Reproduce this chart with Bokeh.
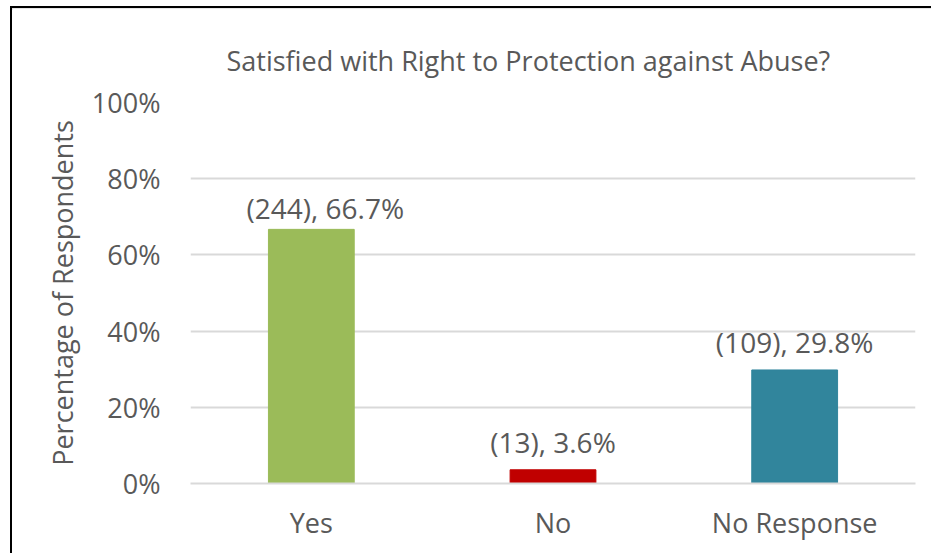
from bokeh.plotting import figure
from bokeh.models import FactorRange, Range1d, ColumnDataSource, LabelSet, NumeralTickFormatter, FixedTicker
from bokeh.core.properties import value
from bokeh.embed import file_html
from bokeh.resources import INLINE

categories = ["Yes", "No", "No Response"]
counts = [244, 13, 109]
percents = [66.7, 3.6, 29.8]
colors = ["#9BBB59", "#C00000", "#31859C"]
y_ticks = [0, 0.2, 0.4, 0.6, 0.8, 1.0]

labels = [f"({c}), {p}%" for c, p in zip(counts, percents)]
label_x_offsets = [14, 0, 0]
label_y_offsets = [10, 17, 17]

src = ColumnDataSource(dict(
    cat=categories,
    val=[p / 100 for p in percents],
    color=colors,
    label=labels,
    xoff=label_x_offsets,
    yoff=label_y_offsets,
))

FONT = "Open Sans"
TXT = "#595959"
FS = "27px"

p = figure(
    x_range=FactorRange(*categories, range_padding=0),
    y_range=Range1d(0, 1),
    width=921, height=547,
    output_backend="svg", toolbar_location=None,
    title="Satisfied with Right to Protection against Abuse?",
    min_border_left=178, min_border_right=18, min_border_top=94, min_border_bottom=72,
)
p.styles = {
    "margin-left": "10px", "margin-top": "6px",
    "border-left": "2px solid black", "border-top": "2px solid black",
    "box-shadow": "inset 0 2px 0 #dcdcdc",
}

p.vbar(x="cat", top="val", width=0.355, color="color", source=src)

p.add_layout(LabelSet(x="cat", y="val", text="label", source=src,
                      x_offset="xoff", y_offset="yoff",
                      text_align="center", text_baseline="alphabetic",
                      text_font=value(FONT), text_font_size=value("28px"), text_color=TXT))

p.title.align = "left"
p.title.offset = 36
p.title.text_font = FONT
p.title.text_font_size = FS
p.title.text_font_style = "normal"
p.title.text_color = TXT
p.title.standoff = 47

p.outline_line_color = None
p.xgrid.grid_line_color = None
p.ygrid.grid_line_color = "#D9D9D9"
p.ygrid.grid_line_width = 2

p.yaxis.ticker = FixedTicker(ticks=y_ticks)
p.yaxis.formatter = NumeralTickFormatter(format="0%")
p.yaxis.axis_line_color = None
p.yaxis.major_tick_line_color = None
p.yaxis.minor_tick_line_color = None
p.yaxis.major_label_standoff = 24
p.yaxis.major_label_text_font = FONT
p.yaxis.major_label_text_font_size = FS
p.yaxis.major_label_text_color = TXT
p.yaxis.axis_label = "Percentage of Respondents"
p.yaxis.axis_label_text_font = FONT
p.yaxis.axis_label_text_font_size = FS
p.yaxis.axis_label_text_font_style = "normal"
p.yaxis.axis_label_text_color = TXT
p.yaxis.axis_label_standoff = 8

p.xaxis.axis_line_color = "#D9D9D9"
p.xaxis.axis_line_width = 2
p.xaxis.major_tick_line_color = None
p.xaxis.minor_tick_line_color = None
p.xaxis.major_label_standoff = 14
p.xaxis.major_label_text_font = FONT
p.xaxis.major_label_text_font_size = FS
p.xaxis.major_label_text_color = TXT

open("out.html", "w").write(file_html(p, INLINE))
